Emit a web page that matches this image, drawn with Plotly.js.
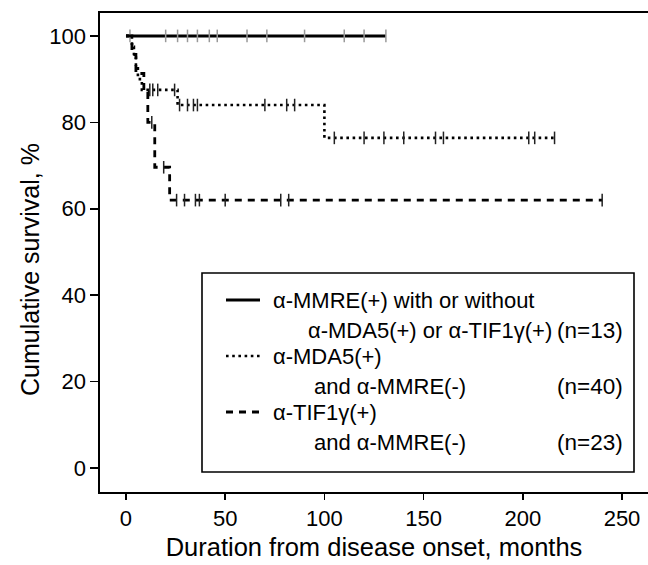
<!DOCTYPE html>
<html>
<head>
<meta charset="utf-8">
<script src="https://cdn.plot.ly/plotly-3.0.1.min.js"></script>
<style>html,body{margin:0;padding:0;background:#fff;}</style>
</head>
<body>
<div id="chart" style="width:648px;height:565px;"></div>
<script>
// ---- data ----
const mmreTime = [0, 131];
const mmreSurv = [100, 100];
const mmreCensorTime = [2, 20, 26, 31, 36, 42, 46, 61, 71, 90, 110, 120, 131];
const mmreCensorSurv = [100, 100, 100, 100, 100, 100, 100, 100, 100, 100, 100, 100, 100];

const mda5Time = [0, 3, 4, 5, 6, 8, 26, 100, 216];
const mda5Surv = [100, 97.5, 95, 92.5, 90, 87.5, 84, 76.4, 76.4];
const mda5CensorTime = [12, 13.5, 16, 24.5, 27, 31, 34, 36, 70, 81, 85, 105, 120, 130, 140, 156, 160, 203, 206, 216];
const mda5CensorSurv = [87.5, 87.5, 87.5, 87.5, 84, 84, 84, 84, 84, 84, 84, 76.4, 76.4, 76.4, 76.4, 76.4, 76.4, 76.4, 76.4, 76.4];

const tifTime = [0, 3, 5, 9, 11, 14.5, 22, 240];
const tifSurv = [100, 95.7, 91.3, 87.0, 80.0, 69.6, 62.0, 62.0];
const tifCensorTime = [13, 19, 25.5, 29.5, 35, 37, 50, 78, 82, 240];
const tifCensorSurv = [80, 69.6, 62, 62, 62, 62, 62, 62, 62, 62];

const xTicks = [0, 50, 100, 150, 200, 250];
const yTicks = [0, 20, 40, 60, 80, 100];

const xTitle = "Duration from disease onset, months";
const yTitle = "Cumulative survival, %";

const legendRows = [
  ["α-MMRE(+) with or without", "α-MDA5(+) or α-TIF1γ(+)", "(n=13)"],
  ["α-MDA5(+)", "and α-MMRE(-)", "(n=40)"],
  ["α-TIF1γ(+)", "and α-MMRE(-)", "(n=23)"]
];

// ---- styles ----
const FONT = "Liberation Sans, Arial, sans-serif";
const solidLine = {color: "#000", width: 3, dash: "solid", shape: "hv"};
const dotLine = {color: "#000", width: 2.6, dash: "2.6px,3.6px", shape: "hv"};
const dashLine = {color: "#000", width: 2.8, dash: "7px,6px", shape: "hv"};

function censor(t, s, col) {
  return {x: t, y: s, mode: "markers", type: "scatter", hoverinfo: "skip", showlegend: false,
    marker: {symbol: "line-ns-open", size: 9, color: col, line: {color: col, width: 1.5}}};
}

const traces = [
  {x: mmreTime, y: mmreSurv, mode: "lines", type: "scatter", line: solidLine, name: "α-MMRE(+)", showlegend: false},
  censor(mmreCensorTime, mmreCensorSurv, "#999"),
  {x: mda5Time, y: mda5Surv, mode: "lines", type: "scatter", line: dotLine, name: "α-MDA5(+)", showlegend: false},
  censor(mda5CensorTime, mda5CensorSurv, "#222"),
  {x: tifTime, y: tifSurv, mode: "lines", type: "scatter", line: dashLine, name: "α-TIF1γ(+)", showlegend: false},
  censor(tifCensorTime, tifCensorSurv, "#222")
];

// pixel -> paper helpers (plot area: x 100..648, y 13..492)
const L = 100, R = 648, T = 13, B = 492;
const px = v => (v - L) / (R - L);
const py = v => (B - v) / (B - T);

const shapes = [
  {type: "rect", xref: "paper", yref: "paper", x0: px(202), x1: px(634), y0: py(472), y1: py(273),
   line: {color: "#000", width: 1.6}, fillcolor: "rgba(0,0,0,0)"}
];
const annotations = [
  {xref: "paper", yref: "paper", x: px(30), y: py(270), xanchor: "center", yanchor: "middle", textangle: -90,
   text: yTitle, showarrow: false, font: {family: FONT, size: 25, color: "#000"}}
];
const rowY = [[300, 330], [356, 386], [412, 442]];
const styles = [solidLine, dotLine, dashLine];
legendRows.forEach((r, i) => {
  const ln = styles[i];
  shapes.push({type: "line", xref: "paper", yref: "paper", x0: px(226), x1: px(260), y0: py(rowY[i][0]), y1: py(rowY[i][0]),
    line: {color: "#000", width: ln.width, dash: ln.dash}});
  annotations.push({xref: "paper", yref: "paper", x: px(271), y: py(rowY[i][0]), xanchor: "left", yanchor: "middle",
    text: r[0], showarrow: false, font: {family: FONT, size: 22, color: "#000"}});
  annotations.push({xref: "paper", yref: "paper", x: px(i === 0 ? 306 : 312), y: py(rowY[i][1]), xanchor: "left", yanchor: "middle",
    text: r[1], showarrow: false, font: {family: FONT, size: 22, color: "#000"}});
  annotations.push({xref: "paper", yref: "paper", x: px(555), y: py(rowY[i][1]), xanchor: "left", yanchor: "middle",
    text: r[2], showarrow: false, font: {family: FONT, size: 22.5, color: "#000"}});
});

const layout = {
  width: 648, height: 565,
  margin: {l: L, r: 0, t: T, b: 565 - B, pad: 0},
  paper_bgcolor: "#fff", plot_bgcolor: "#fff",
  font: {family: FONT, size: 22, color: "#000"},
  showlegend: false,
  xaxis: {
    range: [-13.1, 263.1], tickvals: xTicks, ticktext: xTicks.map(String),
    showgrid: false, zeroline: false, showline: true, mirror: true, linecolor: "#000", linewidth: 1.6,
    ticks: "outside", ticklen: 6, tickwidth: 1.6, tickcolor: "#000",
    tickfont: {family: FONT, size: 22, color: "#000"},
    title: {text: xTitle, font: {family: FONT, size: 25.5, color: "#000"}, standoff: 8}
  },
  yaxis: {
    range: [-5.55, 105.3], tickvals: yTicks, ticktext: yTicks.map(String),
    showgrid: false, zeroline: false, showline: true, linecolor: "#000", linewidth: 1.6,
    ticks: "outside", ticklen: 8, tickwidth: 1.6, tickcolor: "#000",
    tickfont: {family: FONT, size: 22, color: "#000"}
  },
  shapes: shapes,
  annotations: annotations
};

Plotly.newPlot("chart", traces, layout, {displayModeBar: false, staticPlot: true});
</script>
</body>
</html>
